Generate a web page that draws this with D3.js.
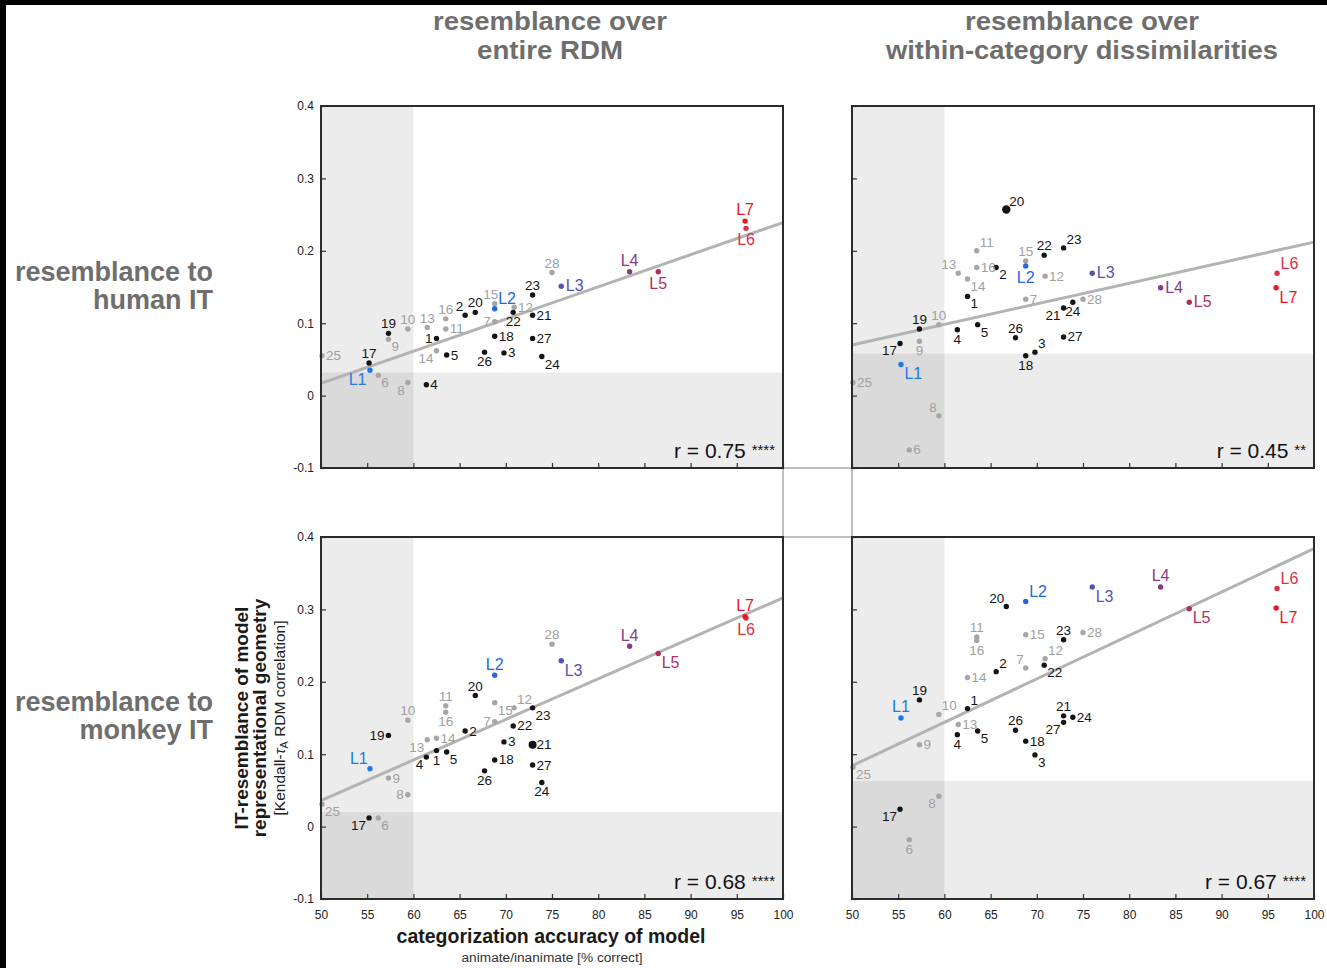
<!DOCTYPE html>
<html lang="en">
<head>
<meta charset="UTF-8">
<title>IT resemblance vs categorization accuracy</title>
<script src="https://d3js.org/d3.v7.min.js"></script>
<style>
  body { margin: 0; background: #fff; font-family: "Liberation Sans", Arial, sans-serif; }
  svg { display: block; }
  .tick text { font-size: 12px; fill: #222; font-family: "Liberation Sans", Arial, sans-serif; }
  .tick line { stroke: #333; stroke-width: 1.2; }
</style>
</head>
<body>
<svg width="1327" height="968"></svg>
<script>
// 28 numbered models plus the 7 layers of the deep net
const models = ["1","2","3","4","5","6","7","8","9","10","11","12","13","14","15","16","17","18","19","20",
                "21","22","23","24","25","26","27","28","L1","L2","L3","L4","L5","L6","L7"];
const grayModels = ["6","7","8","9","10","11","12","13","14","15","16","25","28"];
const layerColors = ["#1e78e6","#2367dc","#5454b4","#873a8a","#b02f5a","#dc2f48","#f01420"];

// animate/inanimate accuracy [% correct]
const accuracy = [62.5, 65.6, 69.8, 61.4, 63.6, 56.2, 68.8, 59.4, 57.3, 59.4,
                  63.5, 70.9, 61.5, 62.5, 68.8, 63.5, 55.2, 68.8, 57.3, 66.7,
                  72.9, 70.8, 72.9, 73.9, 50.1, 67.7, 72.9, 75.0,
                  55.3, 68.8, 76.0, 83.4, 86.5, 96.0, 95.9];

// Kendall tau-A with IT
const humanEntire = [0.079, 0.111, 0.059, 0.015, 0.056, 0.028, 0.102, 0.018, 0.078, 0.092,
                     0.092, 0.122, 0.094, 0.062, 0.127, 0.106, 0.045, 0.082, 0.086, 0.115,
                     0.111, 0.115, 0.139, 0.054, 0.055, 0.060, 0.079, 0.170,
                     0.035, 0.120, 0.151, 0.171, 0.171, 0.231, 0.241];
const humanWithin = [0.137, 0.177, 0.060, 0.091, 0.098, -0.075, 0.133, -0.028, 0.075, 0.098,
                     0.200, 0.165, 0.169, 0.161, 0.186, 0.177, 0.072, 0.055, 0.092, 0.257,
                     0.121, 0.194, 0.204, 0.129, 0.018, 0.080, 0.081, 0.133,
                     0.043, 0.179, 0.169, 0.149, 0.129, 0.169, 0.149];
const monkeyEntire = [0.105, 0.132, 0.117, 0.096, 0.103, 0.012, 0.145, 0.044, 0.067, 0.147,
                      0.167, 0.164, 0.120, 0.122, 0.171, 0.158, 0.012, 0.092, 0.126, 0.181,
                      0.113, 0.139, 0.164, 0.061, 0.031, 0.077, 0.085, 0.252,
                      0.080, 0.209, 0.229, 0.249, 0.239, 0.288, 0.290];
const monkeyWithin = [0.163, 0.214, 0.099, 0.127, 0.132, -0.018, 0.219, 0.042, 0.113, 0.155,
                      0.262, 0.232, 0.141, 0.206, 0.265, 0.257, 0.024, 0.118, 0.175, 0.304,
                      0.153, 0.223, 0.258, 0.151, 0.082, 0.133, 0.144, 0.268,
                      0.150, 0.311, 0.331, 0.331, 0.301, 0.329, 0.302];

// fitted line, value at 50% and at 100%
const fitHumanEntire = [0.017, 0.239];
const fitHumanWithin = [0.070, 0.212];
const fitMonkeyEntire = [0.036, 0.316];
const fitMonkeyWithin = [0.084, 0.384];

// noise-floor band (upper edge) per panel
const floors = [0.032, 0.058, 0.020, 0.063];
const rValues = ["r = 0.75", "r = 0.45", "r = 0.68", "r = 0.67"];
const rStars = ["****", "**", "****", "****"];

const xTicks = [50, 55, 60, 65, 70, 75, 80, 85, 90, 95, 100];
const yTicks = [-0.1, 0, 0.1, 0.2, 0.3, 0.4];

// label placement around each dot (same order as models)
const placeTL = ["w","nw","e","e","e","se","w","sw","se","n","e","e","n","sw","nl","n","n","e","n","n",
                 "e","s","n","se","e","s","e","n","sw","ne","e","n","s","s","n"];
const placeTR = ["se","se","ne","s","se","e","e","nw","s","n","ne","e","nw","se","n","e","sw","s","n","ne",
                 "sw","n","ne","s","e","n","e","e","se","s","e","e","e","ne","se"];
const placeBL = ["s","e","e","sw","se","se","w","w","e","n","n","ne","sw","e","se","s","sw","e","w","n",
                 "e","e","se","s","se","s","e","n","nw","n","se","n","se","s","n"];
const placeBR = ["ne","ne","se","s","se","s","nw","sw","e","ne","n","ne","e","e","e","s","sw","e","n","nw",
                 "n","se","n","e","se","n","sw","e","n","ne","se","n","se","ne","se"];

const W = 462, H = 362;
const panels = [
  {vals: humanEntire, fit: fitHumanEntire, left: 321, top: 106, place: placeTL, yLab: true, xLab: false, big: {}},
  {vals: humanWithin, fit: fitHumanWithin, left: 852, top: 106, place: placeTR, yLab: false, xLab: false, big: {"20": 4.2}},
  {vals: monkeyEntire, fit: fitMonkeyEntire, left: 321, top: 537, place: placeBL, yLab: true, xLab: true, big: {"21": 4.0}},
  {vals: monkeyWithin, fit: fitMonkeyWithin, left: 852, top: 537, place: placeBR, yLab: false, xLab: true, big: {}}
];

const svg = d3.select("svg");
const x = d3.scaleLinear().domain([50, 100]).range([0, W]);
const y = d3.scaleLinear().domain([-0.1, 0.4]).range([H, 0]);

function colorOf(m) {
  if (m[0] === "L") return layerColors[+m[1] - 1];
  return grayModels.includes(m) ? "#a6a6a6" : "#141414";
}

const offsets = {
  n:  {dx: 0,  dy: -5, a: "middle"},
  nl: {dx: -4, dy: -5, a: "middle"},
  s:  {dx: 0,  dy: 14, a: "middle"},
  e:  {dx: 4,  dy: 4.5, a: "start"},
  w:  {dx: -4, dy: 4.5, a: "end"},
  ne: {dx: 3,  dy: -4, a: "start"},
  nw: {dx: -2, dy: -4, a: "end"},
  se: {dx: 3,  dy: 12, a: "start"},
  sw: {dx: -3, dy: 12, a: "end"}
};

// black edges of the scanned figure
svg.append("rect").attr("x", 0).attr("y", 0).attr("width", 1327).attr("height", 5).attr("fill", "#000");
svg.append("rect").attr("x", 0).attr("y", 0).attr("width", 6).attr("height", 968).attr("fill", "#000");

// thin connector box between the panels
svg.append("rect")
  .attr("x", 321 + W).attr("y", 106 + H)
  .attr("width", 852 - 321 - W).attr("height", 537 - 106 - H)
  .attr("fill", "none").attr("stroke", "#aaa").attr("stroke-width", 1.5);

panels.forEach((p, i) => {
  const g = svg.append("g").attr("transform", `translate(${p.left},${p.top})`);

  g.append("rect").attr("width", W).attr("height", H).attr("fill", "#fff");
  // shaded regions: below the floor and below 60% accuracy
  g.append("rect")
    .attr("x", 0).attr("y", y(floors[i]))
    .attr("width", W).attr("height", H - y(floors[i]))
    .attr("fill", "rgba(0,0,0,0.075)");
  g.append("rect")
    .attr("x", 0).attr("y", 0)
    .attr("width", x(60)).attr("height", H)
    .attr("fill", "rgba(0,0,0,0.075)");

  // axes with inward ticks
  const xa = g.append("g").attr("transform", `translate(0,${H})`)
    .call(d3.axisBottom(x).tickValues(xTicks).tickSize(-5).tickPadding(11));
  xa.select(".domain").remove();
  if (!p.xLab) xa.selectAll("text").remove();

  const ya = g.append("g")
    .call(d3.axisLeft(y).tickValues(yTicks).tickSize(-5).tickPadding(7)
      .tickFormat(d => d === 0 ? "0" : (d < 0 ? "-" : "") + Math.abs(d).toFixed(1)));
  ya.select(".domain").remove();
  if (!p.yLab) ya.selectAll("text").remove();

  // regression line
  g.append("line")
    .attr("x1", x(50)).attr("y1", y(p.fit[0]))
    .attr("x2", x(100)).attr("y2", y(p.fit[1]))
    .attr("stroke", "#b3b3b3").attr("stroke-width", 3);

  const pts = models.map((m, j) => ({m, ax: accuracy[j], v: p.vals[j], pl: p.place[j]}));

  g.selectAll("circle.pt").data(pts).join("circle")
    .attr("class", "pt")
    .attr("cx", d => x(d.ax)).attr("cy", d => y(d.v))
    .attr("r", d => p.big[d.m] || 2.7)
    .attr("fill", d => colorOf(d.m));

  g.selectAll("text.lab").data(pts).join("text")
    .attr("class", "lab")
    .each(function(d) {
      const o = offsets[d.pl];
      const isL = d.m[0] === "L";
      const k = isL ? 1.15 : 1;
      d3.select(this)
        .attr("x", x(d.ax) + o.dx * k)
        .attr("y", y(d.v) + o.dy * k + (isL && d.pl[0] === "s" ? 1 : 0))
        .attr("text-anchor", o.a)
        .attr("font-size", isL ? 16 : 13.5)
        .attr("fill", isL ? colorOf(d.m) : (grayModels.includes(d.m) ? "#a0a0a0" : "#141414"))
        .text(d.m);
    });

  // correlation
  const rt = g.append("text")
    .attr("x", W - 8).attr("y", H - 10)
    .attr("text-anchor", "end")
    .attr("fill", "#111");
  rt.append("tspan").attr("font-size", 21).text(rValues[i] + " ");
  rt.append("tspan").attr("font-size", 15).attr("dy", -3).text(rStars[i]);

  // frame
  g.append("rect").attr("width", W).attr("height", H)
    .attr("fill", "none").attr("stroke", "#2b2b2b").attr("stroke-width", 2);
});

// column titles
const titleColor = "#6e6e6e";
[[550, ["resemblance over", "entire RDM"], [234, 146]],
 [1082, ["resemblance over", "within-category dissimilarities"], [234, 392]]].forEach(([cx, lines, lens]) => {
  lines.forEach((t, k) => {
    svg.append("text").attr("x", cx).attr("y", 30 + k * 29)
      .attr("text-anchor", "middle").attr("font-size", 25).attr("font-weight", "bold")
      .attr("textLength", lens[k]).attr("lengthAdjust", "spacingAndGlyphs")
      .attr("fill", titleColor).text(t);
  });
});

// row titles
[[281, ["resemblance to", "human IT"]], [711, ["resemblance to", "monkey IT"]]].forEach(([by, lines]) => {
  lines.forEach((t, k) => {
    svg.append("text").attr("x", 213).attr("y", by + k * 28)
      .attr("text-anchor", "end").attr("font-size", 27).attr("font-weight", "bold")
      .attr("fill", titleColor).text(t);
  });
});

// y axis title
const yt = svg.append("g").attr("transform", "translate(0,718) rotate(-90)");
yt.append("text").attr("x", 0).attr("y", 248).attr("text-anchor", "middle")
  .attr("font-size", 19).attr("font-weight", "bold").attr("fill", "#1a1a1a").text("IT-resemblance of model");
yt.append("text").attr("x", 0).attr("y", 266).attr("text-anchor", "middle")
  .attr("font-size", 19).attr("font-weight", "bold").attr("fill", "#1a1a1a").text("representational geometry");
const kt = yt.append("text").attr("x", 0).attr("y", 285).attr("text-anchor", "middle")
  .attr("font-size", 15.5).attr("fill", "#222");
kt.append("tspan").text("[Kendall-");
kt.append("tspan").attr("font-style", "italic").text("τ");
kt.append("tspan").attr("font-size", 11).attr("dy", 3).text("A");
kt.append("tspan").attr("dy", -3).text(" RDM correlation]");

// x axis title
svg.append("text").attr("x", 551).attr("y", 943).attr("text-anchor", "middle")
  .attr("font-size", 19.5).attr("font-weight", "bold").attr("fill", "#1a1a1a")
  .text("categorization accuracy of model");
svg.append("text").attr("x", 552).attr("y", 962).attr("text-anchor", "middle")
  .attr("font-size", 13.7).attr("fill", "#333")
  .text("animate/inanimate [% correct]");
</script>
</body>
</html>
